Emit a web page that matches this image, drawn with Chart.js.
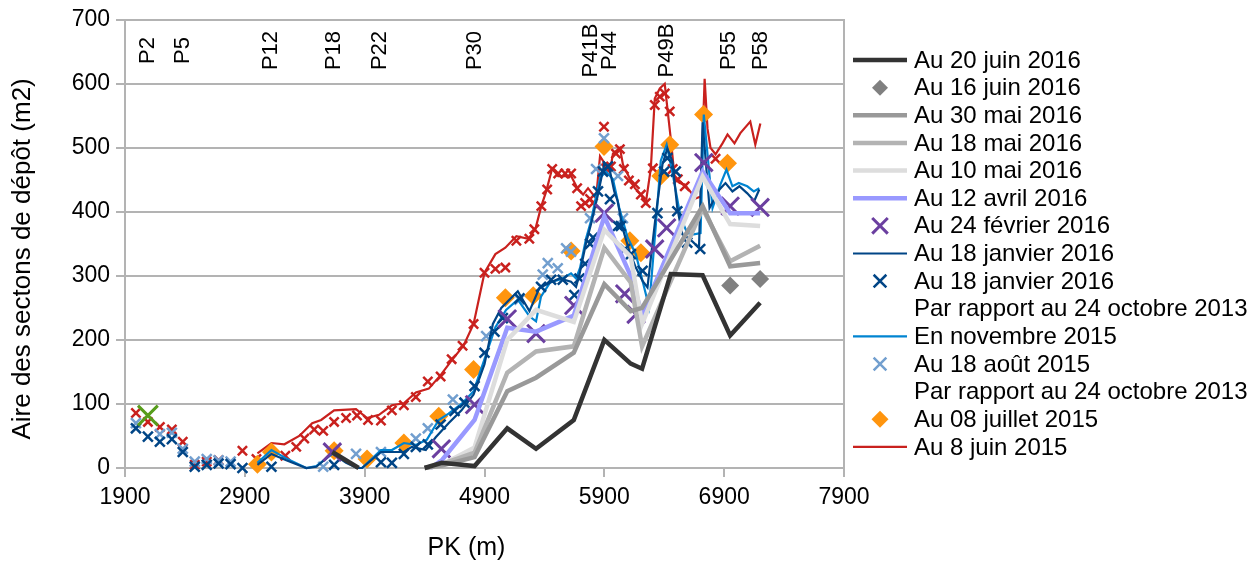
<!DOCTYPE html>
<html>
<head>
<meta charset="utf-8">
<script src="https://cdn.jsdelivr.net/npm/chart.js@4.4.0/dist/chart.umd.min.js"></script>
<style>
  html, body { margin: 0; padding: 0; background: #fff; }
</style>
</head>
<body>
<canvas id="chart" width="1260" height="564"></canvas>
<script>
//----------------------------- DATA -----------------------------//
const pkTicks = [1900, 2900, 3900, 4900, 5900, 6900, 7900];

// profils (etiquettes en haut du graphique)
const profilNoms = ['P2', 'P5', 'P12', 'P18', 'P22', 'P30', 'P41B', 'P44', 'P49B', 'P55', 'P58'];
const profilPk = [2091, 2382, 3122, 3645, 4027, 4817, 5789, 5947, 6421, 6936, 7210];
const profilHauteur = 652;

// Au 20 juin 2016
const pkJuin20 = [3630, 3850, 4100, 4400, 4543, 4817, 5090, 5330, 5645, 5900, 6120, 6215, 6454, 6720, 6950, 7200];
const aJuin20 = [25, 0, null, 0, 8, 3, 62, 30, 75, 200, 163, 155, 303, 301, 207, 258];

// Au 16 juin 2016
const pkJuin16 = [6950, 7200];
const aJuin16 = [285, 295];

// Au 30 mai, 18 mai, 10 mai 2016
const pkGris = [4400, 4543, 4817, 5090, 5330, 5645, 5900, 6120, 6215, 6720, 6950, 7200];
const aMai30 = [0, 4, 17, 120, 141, 180, 287, 245, 250, 409, 315, 320];
const aMai18 = [0, 6, 24, 149, 182, 190, 344, 290, 190, 405, 323, 347];
const aMai10 = [0, 5, 32, 200, 247, 228, 372, 330, 225, 455, 381, 378];

// Au 12 avril 2016
const pkAvril = [4450, 4543, 4817, 5090, 5330, 5645, 5900, 6120, 6215, 6720, 6950, 7200];
const aAvril = [0, 12, 75, 219, 213, 238, 393, 300, 240, 463, 398, 398];

// Au 24 fevrier 2016
const pkFev = [3630, 4540, 4817, 5090, 5330, 5645, 5900, 6070, 6165, 6320, 6420, 6730, 6950, 7200];
const aFev = [25, 30, 99, 233, 210, 254, 398, 272, 240, 342, 375, 477, 409, 407];

// Au 18 janvier 2016 (ligne)
const pkJanL = [3005, 3122, 3246, 3413, 3496, 3630, 3745, 3836, 3878, 4036, 4127, 4227, 4293, 4410, 4493,
  4600, 4708, 4809, 4900, 4970, 5040, 5178, 5275, 5358, 5442, 5525, 5622, 5664, 5692, 5747, 5789, 5847,
  5900, 5942, 5983, 6011, 6052, 6108, 6163, 6219, 6260, 6330, 6385, 6426, 6468, 6509, 6551, 6592, 6634,
  6690, 6720, 6778, 6861, 6911, 6969, 7027, 7093, 7151, 7193];
const aJanL = [5, 22, 12, 0, 2, 23, 8, 0, 0, 25, 25, 25, 33, 28, 48,
  70, 90, 115, 162, 225, 250, 276, 245, 281, 289, 296, 291, 283, 302, 351, 381, 427,
  476, 468, 432, 417, 375, 339, 313, 292, 282, 396, 474, 499, 479, 406, 365, 360, 354,
  344, 540, 406, 435, 445, 432, 440, 429, 417, 435];

// Au 18 janvier 2016 (points)
const pkJanX = [1991, 2091, 2191, 2291, 2382, 2482, 2582, 2681, 2781, 2880, 3122, 3645, 4036, 4127, 4227,
  4327, 4427, 4534, 4650, 4733, 4817, 4900, 4983, 5053, 5192, 5372, 5456, 5553, 5650, 5692, 5740, 5781,
  5806, 5847, 5889, 5930, 5947, 6014, 6038, 6072, 6122, 6219, 6343, 6399, 6426, 6496, 6509, 6592, 6700];
const aJanX = [62, 49, 41, 45, 25, 2, 5, 7, 6, 0, 2, 5, 9, 8, 22,
  33, 37, 68, 89, 102, 128, 180, 213, 234, 265, 283, 294, 294, 270, 296, 319, 350,
  360, 432, 463, 471, 420, 378, 378, 342, 334, 308, 398, 463, 484, 463, 401, 352, 342];

// En novembre 2015
const pkNov = [3005, 3122, 3246, 3413, 3496, 3630, 3745, 3836, 3878, 4036, 4127, 4227, 4327, 4418, 4518,
  4600, 4708, 4809, 4900, 4991, 5080, 5178, 5275, 5330, 5372, 5448, 5540, 5622, 5664, 5698, 5748, 5789,
  5864, 5914, 5972, 6025, 6094, 6163, 6219, 6274, 6330, 6371, 6420, 6470, 6537, 6592, 6647, 6703, 6730,
  6803, 6869, 6919, 6969, 7022, 7093, 7147, 7193];
const aNov = [8, 28, 15, 0, 3, 22, 10, 0, 0, 28, 28, 39, 36, 44, 75,
  85, 100, 120, 170, 220, 247, 263, 237, 229, 268, 290, 295, 304, 296, 313, 359, 386,
  453, 463, 451, 406, 360, 334, 292, 251, 380, 480, 505, 460, 391, 367, 365, 367, 552,
  406, 443, 466, 440, 445, 440, 432, 437];

// Au 18 aout 2015
const pkAout = [1991, 2191, 2291, 2382, 2482, 2582, 2681, 2781, 3554, 3828, 4036, 4327, 4427, 4636, 4914,
  5192, 5386, 5428, 5511, 5581, 5622, 5781, 5831, 5897, 6014, 6055];
const aAout = [70, 53, 55, 30, 10, 14, 12, 10, 2, 22, 25, 46, 62, 107, 206,
  263, 302, 320, 312, 343, 338, 390, 467, 515, 456, 390];

// Au 08 juillet 2015
const pkJuil = [3005, 3122, 3645, 3920, 4227, 4518, 4809, 5074, 5307, 5623, 5897, 6113, 6205, 6371, 6446, 6728, 6928];
const aJuil = [6, 25, 27, 14, 39, 81, 154, 266, 269, 339, 502, 355, 336, 456, 505, 552, 476];

// Au 8 juin 2015
const pkJuin8 = [3005, 3122, 3230, 3354, 3462, 3537, 3645, 3828, 3920, 4020, 4127, 4227, 4327, 4435, 4534,
  4626, 4725, 4809, 4900, 4991, 5074, 5166, 5266, 5324, 5374, 5415, 5465, 5515, 5573, 5623, 5681, 5723,
  5764, 5831, 5864, 5947, 5972, 6030, 6055, 6105, 6155, 6205, 6246, 6288, 6321, 6363, 6404, 6429, 6454,
  6488, 6529, 6571, 6662, 6704, 6737, 6761, 6786, 6828, 6886, 6928, 6986, 7035, 7118, 7160, 7202];
const aJuin8 = [23, 39, 37, 50, 70, 75, 90, 92, 78, 83, 98, 101, 118, 124, 145,
  168, 191, 225, 305, 334, 344, 362, 358, 373, 409, 432, 468, 456, 456, 456, 435, 427,
  437, 421, 487, 463, 491, 500, 474, 455, 437, 427, 414, 468, 577, 593, 600, 557, 515,
  451, 445, 443, 421, 424, 608, 530, 500, 490, 507, 521, 507, 523, 541, 505, 538];

// points rouges (sans legende)
const pkRouge = [1991, 2091, 2191, 2291, 2382, 2482, 2582, 2681, 2880, 2997, 3238, 3329, 3396, 3479, 3554,
  3645, 3745, 3836, 3928, 4036, 4127, 4227, 4327, 4427, 4534, 4626, 4717, 4809, 4900, 4991, 5074, 5166,
  5274, 5316, 5374, 5423, 5465, 5515, 5573, 5623, 5673, 5706, 5740, 5781, 5806, 5897, 5914, 5955, 5997,
  6030, 6063, 6105, 6155, 6205, 6246, 6305, 6321, 6363, 6404, 6446, 6471, 6513, 6571, 6828];
const aRouge = [86, 72, 64, 60, 41, 5, 10, 12, 27, 14, 19, 33, 46, 60, 58,
  72, 78, 82, 75, 74, 90, 98, 111, 135, 143, 170, 191, 225, 305, 311, 313, 355,
  358, 373, 409, 435, 467, 460, 460, 460, 437, 409, 414, 420, 414, 533, 468, 471, 491,
  498, 467, 449, 443, 427, 414, 468, 567, 580, 585, 557, 467, 451, 440, 483];

// point vert (sans legende)
const pkVert = [2091];
const aVert = [82];

//---------------------------- HELPERS ---------------------------//
const FONT = '"Liberation Sans", Arial, sans-serif';
const pts = (xs, ys) => xs.map((x, i) => ({ x: x, y: ys[i] }));

function lineSet(label, xs, ys, color, width) {
  return {
    label: label, legend: 'line', data: pts(xs, ys), yAxisID: 'y',
    showLine: true, borderColor: color, backgroundColor: color, borderWidth: width,
    pointRadius: 0, pointHoverRadius: 0, tension: 0, spanGaps: false, clip: 14
  };
}
function markSet(label, xs, ys, color, style, radius, width, legendRadius) {
  return {
    label: label, legend: label ? 'mark' : null, data: pts(xs, ys), yAxisID: 'y',
    showLine: false, borderColor: color, backgroundColor: color,
    pointStyle: style, pointRadius: radius, pointHoverRadius: radius,
    pointBorderWidth: width, borderWidth: width, legendRadius: legendRadius, clip: 14
  };
}
function textSet(label) {
  return { label: label, legend: 'text', data: [], yAxisID: 'y' };
}

//---------------------------- PLUGINS ---------------------------//
const sideLegend = {
  id: 'sideLegend',
  afterDraw(chart) {
    const ctx = chart.ctx;
    const left = chart.chartArea.right + 9;
    let y = 60;
    ctx.save();
    ctx.font = '24px ' + FONT;
    ctx.textBaseline = 'middle';
    chart.data.datasets.forEach(ds => {
      if (!ds.legend) return;
      if (ds.legend === 'line') {
        ctx.strokeStyle = ds.borderColor;
        ctx.lineWidth = ds.borderWidth;
        ctx.beginPath();
        ctx.moveTo(left, y);
        ctx.lineTo(left + 54, y);
        ctx.stroke();
      } else if (ds.legend === 'mark') {
        ctx.strokeStyle = ds.borderColor;
        ctx.fillStyle = ds.backgroundColor;
        ctx.lineWidth = ds.pointBorderWidth;
        Chart.helpers.drawPoint(ctx, {
          pointStyle: ds.pointStyle, radius: ds.legendRadius,
          borderWidth: ds.pointStyle === 'rectRot' ? 0 : ds.pointBorderWidth, rotation: 0
        }, left + 27, y);
      }
      ctx.fillStyle = '#000';
      ctx.fillText(ds.label, left + 61, y + 1);
      y += 27.64;
    });
    ctx.restore();
  }
};

const profilLabels = {
  id: 'profilLabels',
  afterDatasetsDraw(chart) {
    const ctx = chart.ctx;
    const sx = chart.scales.x, sy = chart.scales.y;
    ctx.save();
    ctx.font = '22px ' + FONT;
    ctx.fillStyle = '#000';
    ctx.textAlign = 'center';
    ctx.textBaseline = 'middle';
    profilNoms.forEach((nom, i) => {
      ctx.save();
      ctx.translate(sx.getPixelForValue(profilPk[i]), sy.getPixelForValue(profilHauteur));
      ctx.rotate(-Math.PI / 2);
      ctx.fillText(nom, 0, 0);
      ctx.restore();
    });
    ctx.restore();
  }
};

// titres des axes (decales comme dans l'original)
const axisTitles = {
  id: 'axisTitles',
  afterDraw(chart) {
    const ctx = chart.ctx;
    const a = chart.chartArea;
    ctx.save();
    ctx.fillStyle = '#000';
    ctx.textAlign = 'center';
    ctx.textBaseline = 'middle';
    ctx.font = '25px ' + FONT;
    ctx.fillText('PK (m)', (a.left + a.right) / 2 - 18, 548);
    ctx.font = '26px ' + FONT;
    ctx.translate(23, (a.top + a.bottom) / 2 + 15);
    ctx.rotate(-Math.PI / 2);
    ctx.fillText('Aire des sectons de dépôt (m2)', 0, 0);
    ctx.restore();
  }
};

//----------------------------- CHART ----------------------------//
Chart.defaults.font.family = FONT;
Chart.defaults.font.size = 23;
Chart.defaults.color = '#000';

const datasets = [
  markSet(null, pkVert, aVert, '#579d1c', 'crossRot', 14, 3),
  lineSet('Au 20 juin 2016', pkJuin20, aJuin20, '#333333', 4.5),
  markSet('Au 16 juin 2016', pkJuin16, aJuin16, '#808080', 'rectRot', 9, 0, 8),
  lineSet('Au 30 mai 2016', pkGris, aMai30, '#999999', 4.5),
  lineSet('Au 18 mai 2016', pkGris, aMai18, '#b3b3b3', 4.5),
  lineSet('Au 10 mai 2016', pkGris, aMai10, '#dddddd', 4.5),
  lineSet('Au 12 avril 2016', pkAvril, aAvril, '#9999ff', 4.5),
  markSet('Au 24 février 2016', pkFev, aFev, '#6b3fa0', 'crossRot', 12.5, 3, 11),
  lineSet('Au 18 janvier 2016', pkJanL, aJanL, '#004586', 2.2),
  markSet('Au 18 janvier 2016', pkJanX, aJanX, '#004586', 'crossRot', 7, 2.5, 9),
  textSet('Par rapport au 24 octobre 2013'),
  lineSet('En novembre 2015', pkNov, aNov, '#0084d1', 2.2),
  markSet('Au 18 août 2015', pkAout, aAout, '#729fcf', 'crossRot', 7, 2.5, 9),
  textSet('Par rapport au 24 octobre 2013'),
  markSet('Au 08 juillet 2015', pkJuil, aJuil, '#ff950e', 'rectRot', 9.5, 0, 8.5),
  lineSet('Au 8 juin 2015', pkJuin8, aJuin8, '#c9211e', 2.2),
  markSet(null, pkRouge, aRouge, '#c9211e', 'crossRot', 6.5, 2.5)
];

new Chart(document.getElementById('chart'), {
  type: 'scatter',
  data: { datasets: datasets },
  plugins: [profilLabels, sideLegend, axisTitles],
  options: {
    responsive: false,
    animation: false,
    events: [],
    layout: { padding: { left: 0, top: 18, right: 416, bottom: 0 } },
    plugins: { legend: { display: false }, tooltip: { enabled: false } },
    scales: {
      x: {
        type: 'linear', min: 1900, max: 7900,
        afterBuildTicks: s => { s.ticks = pkTicks.map(v => ({ value: v })); },
        ticks: { color: '#000', padding: 7, maxRotation: 0, callback: v => String(v) },
        grid: { drawOnChartArea: false, color: '#b3b3b3', lineWidth: 2, tickLength: 9 },
        border: { color: '#b3b3b3', width: 2 },
        afterFit: s => { s.height = 96; }
      },
      y: {
        type: 'linear', position: 'left', min: 0, max: 700,
        ticks: { stepSize: 100, color: '#000', padding: 6, callback: v => String(v) },
        grid: { color: '#b3b3b3', lineWidth: 2, tickLength: 9 },
        border: { color: '#b3b3b3', width: 2 },
        afterFit: s => { s.width = 125; }
      },
      y2: {
        type: 'linear', position: 'right', min: 0, max: 700,
        ticks: { display: false },
        grid: { display: false },
        border: { display: true, color: '#b3b3b3', width: 2 },
        afterFit: s => { s.width = 0; }
      }
    }
  }
});
</script>
</body>
</html>
